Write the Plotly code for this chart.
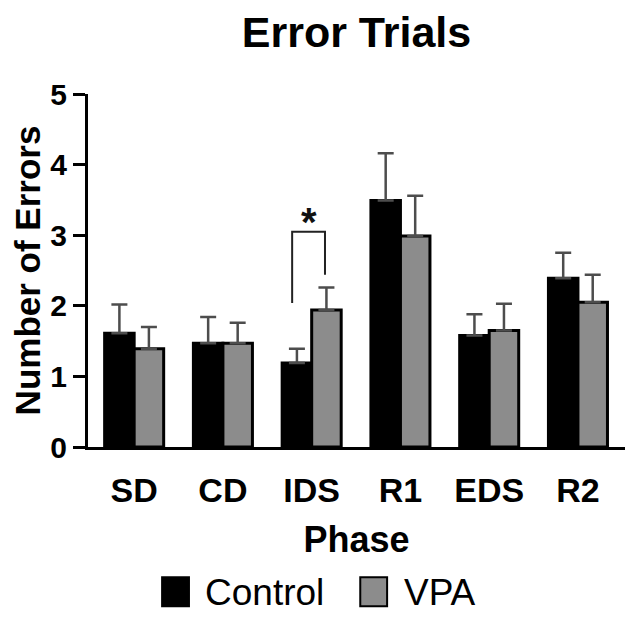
import plotly.graph_objects as go

phases = ["SD", "CD", "IDS", "R1", "EDS", "R2"]
control_mean = [1.61, 1.47, 1.19, 3.49, 1.58, 2.39]
control_err = [0.41, 0.37, 0.20, 0.67, 0.30, 0.36]
vpa_mean = [1.39, 1.47, 1.94, 2.99, 1.65, 2.05]
vpa_err = [0.31, 0.29, 0.32, 0.57, 0.38, 0.39]
y_ticks = [0, 1, 2, 3, 4, 5]

FONT = "Liberation Sans, Arial, sans-serif"
xpos = list(range(len(phases)))

fig = go.Figure()
fig.add_trace(go.Bar(
    x=xpos, y=control_mean, name="Control",
    marker=dict(color="#000000", line=dict(color="#000000", width=3)),
    error_y=dict(type="data", array=control_err, symmetric=False, arrayminus=[0]*6,
                 color="#4d4d4d", thickness=2.5, width=8),
    showlegend=False,
))
fig.add_trace(go.Bar(
    x=xpos, y=vpa_mean, name="VPA",
    marker=dict(color="#8c8c8c", line=dict(color="#000000", width=3)),
    error_y=dict(type="data", array=vpa_err, symmetric=False, arrayminus=[0]*6,
                 color="#4d4d4d", thickness=2.5, width=8),
    showlegend=False,
))

# significance bracket for IDS
sig_idx = 2
left_x = sig_idx - 0.22
right_x = sig_idx + 0.15
top_y = 3.05
fig.add_shape(type="path",
              path=f"M {left_x},{control_mean[sig_idx]+0.85} L {left_x},{top_y} L {right_x},{top_y} L {right_x},{vpa_mean[sig_idx]+0.5}",
              line=dict(color="#222222", width=2), xref="x", yref="y")
fig.add_annotation(x=(left_x+right_x)/2, y=top_y - 0.2, text="<b>*</b>", showarrow=False,
                   yanchor="bottom", font=dict(family=FONT, size=40, color="#111"))

# manual legend
legend_items = [("Control", "#000000", 0.138, 0.215), ("VPA", "#8c8c8c", 0.507, 0.584)]
for name, col, sx, tx in legend_items:
    fig.add_shape(type="rect", xref="paper", yref="paper",
                  x0=sx, x1=sx + 0.05, y0=-0.451, y1=-0.369,
                  fillcolor=col, line=dict(color="#000000", width=2))
    fig.add_annotation(xref="paper", yref="paper", x=tx, y=-0.412, text=name,
                       showarrow=False, xanchor="left", yanchor="middle",
                       font=dict(family=FONT, size=37, color="#000"))

fig.update_layout(
    width=628, height=611,
    margin=dict(l=80, r=11, t=86, b=172),
    paper_bgcolor="white", plot_bgcolor="white",
    barmode="group", bargap=0.335, bargroupgap=0.0,
    title=dict(text="<b>Error Trials</b>", x=0.5, xref="paper", y=1 - 24/611, yref="container",
               xanchor="center", yanchor="middle",
               font=dict(family=FONT, size=43, color="#000")),
    font=dict(family=FONT, color="#000"),
)
fig.update_xaxes(
    range=[-0.52, 5.53], tickmode="array", tickvals=xpos,
    ticktext=[f"<b>{p}</b>" for p in phases],
    tickfont=dict(family=FONT, size=34, color="#000"),
    showline=True, linecolor="#000", linewidth=3, ticks="", showgrid=False, zeroline=False,
    ticklabelstandoff=11,
    title=dict(text="<b>Phase</b>", font=dict(family=FONT, size=36, color="#000"), standoff=20),
)
fig.update_yaxes(
    range=[0, 5], tickmode="array", tickvals=y_ticks,
    ticktext=[f"<b>{t}</b>" for t in y_ticks],
    tickfont=dict(family=FONT, size=30, color="#000"),
    showline=True, linecolor="#000", linewidth=3, ticks="outside", ticklen=12, tickwidth=3,
    tickcolor="#000", showgrid=False, zeroline=False,
    title=dict(text="<b>Number of Errors</b>", font=dict(family=FONT, size=35, color="#000"), standoff=6),
)

fig.write_html("out.html")
